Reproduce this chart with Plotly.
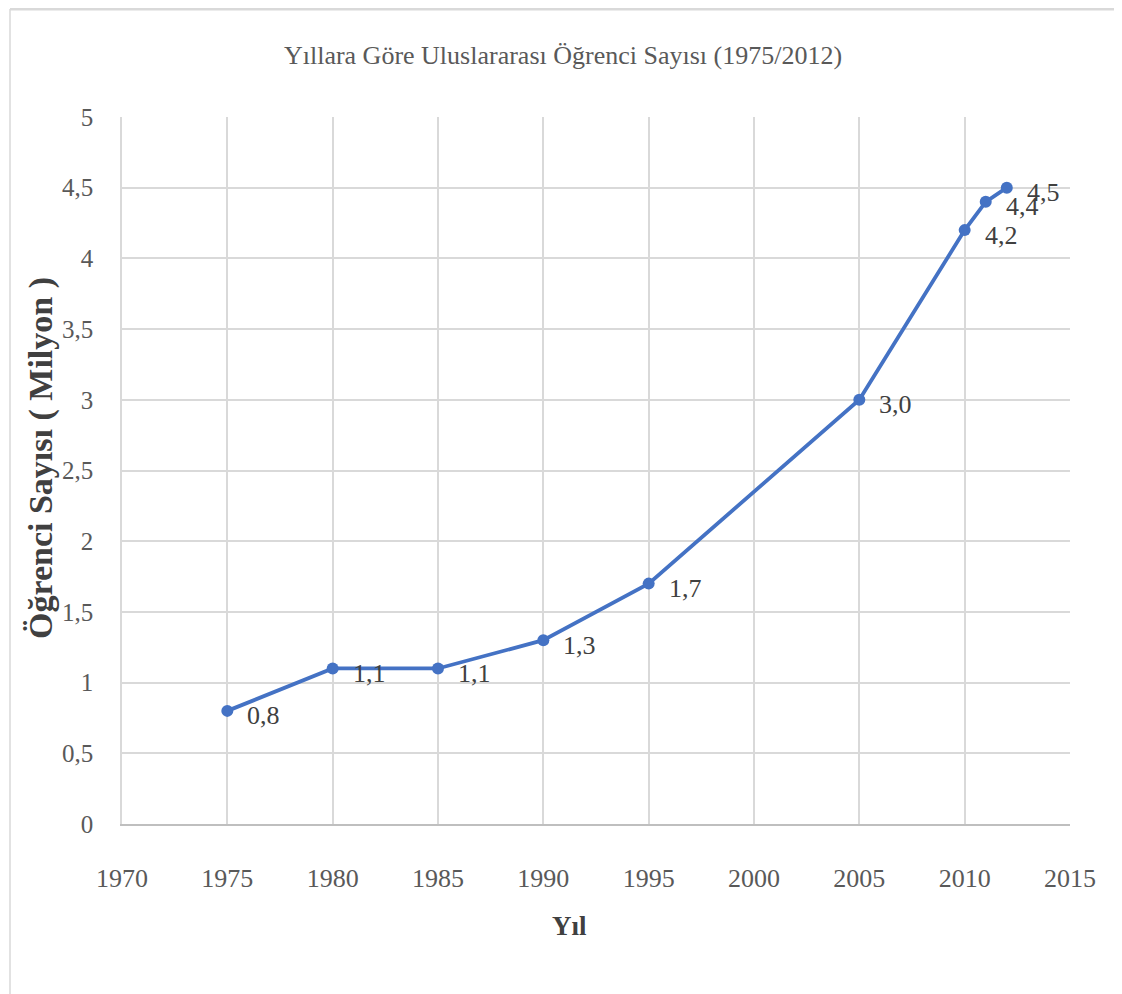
import plotly.graph_objects as go

years = [1975, 1980, 1985, 1990, 1995, 2005, 2010, 2011, 2012]
students = [0.8, 1.1, 1.1, 1.3, 1.7, 3.0, 4.2, 4.4, 4.5]
labels = ["0,8", "1,1", "1,1", "1,3", "1,7", "3,0", "4,2", "4,4", "4,5"]
x_ticks = [1970, 1975, 1980, 1985, 1990, 1995, 2000, 2005, 2010, 2015]
y_ticks = [0, 0.5, 1, 1.5, 2, 2.5, 3, 3.5, 4, 4.5, 5]
y_ticktext = ["0", "0,5", "1", "1,5", "2", "2,5", "3", "3,5", "4", "4,5", "5"]

title_text = "Yıllara Göre Uluslararası Öğrenci Sayısı (1975/2012)"
x_title = "Yıl"
y_title = "Öğrenci Sayısı ( Milyon )"

BLUE = "#4472C4"
TXT = "#595959"
GRID = "#D9D9D9"
FONT = "Liberation Serif"

# plot area in screenshot pixels (page has an 8px body offset)
PL, PR, PT, PB = 122, 1070, 117, 824
PW, PH = PR - PL, PB - PT


def px(xp):
    return (xp - PL) / PW


def py(yp):
    return (PB - yp) / PH


fig = go.Figure()
fig.add_trace(go.Scatter(
    x=years, y=students, mode="lines+markers",
    line=dict(color=BLUE, width=3.8),
    marker=dict(color=BLUE, size=12),
    hoverinfo="skip", showlegend=False,
))

annotations = []
for xv, yv, t in zip(years, students, labels):
    annotations.append(dict(
        x=xv, y=yv, xref="x", yref="y", text=t, showarrow=False,
        xanchor="left", yanchor="middle", xshift=18, yshift=-5,
        font=dict(family=FONT, size=26, color="#404040"),
    ))

annotations.append(dict(
    x=px(569), y=py(926), xref="paper", yref="paper",
    text="<b>" + x_title + "</b>", showarrow=False, xanchor="center", yanchor="middle",
    font=dict(family=FONT, size=27, color="#404040"),
))
annotations.append(dict(
    x=px(41), y=py(458), xref="paper", yref="paper",
    text="<b>" + y_title + "</b>", showarrow=False, textangle=-90,
    xanchor="center", yanchor="middle",
    font=dict(family=FONT, size=34, color="#404040"),
))

shapes = [
    dict(type="line", xref="paper", yref="paper",
         x0=px(10), x1=px(1117), y0=py(9), y1=py(9),
         line=dict(color="#D9D9D9", width=3)),
    dict(type="line", xref="paper", yref="paper",
         x0=px(10), x1=px(10), y0=py(9), y1=py(1005),
         line=dict(color="#D9D9D9", width=1.5)),
    dict(type="line", xref="paper", yref="paper",
         x0=px(1117), x1=px(1117), y0=py(9), y1=py(1005),
         line=dict(color="#EEEEEE", width=1.5)),
]

fig.update_layout(
    width=1122, height=994,
    margin=dict(l=PL - 8, r=1122 - PR + 8, t=PT - 8, b=994 - PB + 8),
    paper_bgcolor="white", plot_bgcolor="white",
    title=dict(text=title_text, x=(563 - 8) / 1122, xref="container", xanchor="center",
               y=1 - (55 - 8) / 994, yref="container", yanchor="middle",
               font=dict(family=FONT, size=26, color=TXT)),
    annotations=annotations,
    shapes=shapes,
    xaxis=dict(
        range=[1970, 2015], tickvals=x_ticks, ticktext=[str(v) for v in x_ticks],
        showgrid=True, gridcolor=GRID, gridwidth=1.5,
        showline=True, linecolor="#BFBFBF", linewidth=1.5, mirror=False,
        zeroline=False, ticks="", ticklabelstandoff=30,
        tickfont=dict(family=FONT, size=26, color=TXT),
    ),
    yaxis=dict(
        range=[0, 5], tickvals=y_ticks, ticktext=y_ticktext,
        showgrid=True, gridcolor=GRID, gridwidth=1.5,
        showline=True, linecolor=GRID, linewidth=1.5, mirror=False,
        zeroline=False, ticks="", ticklabelstandoff=22,
        tickfont=dict(family=FONT, size=25, color=TXT),
    ),
)

fig.write_html("out.html")
